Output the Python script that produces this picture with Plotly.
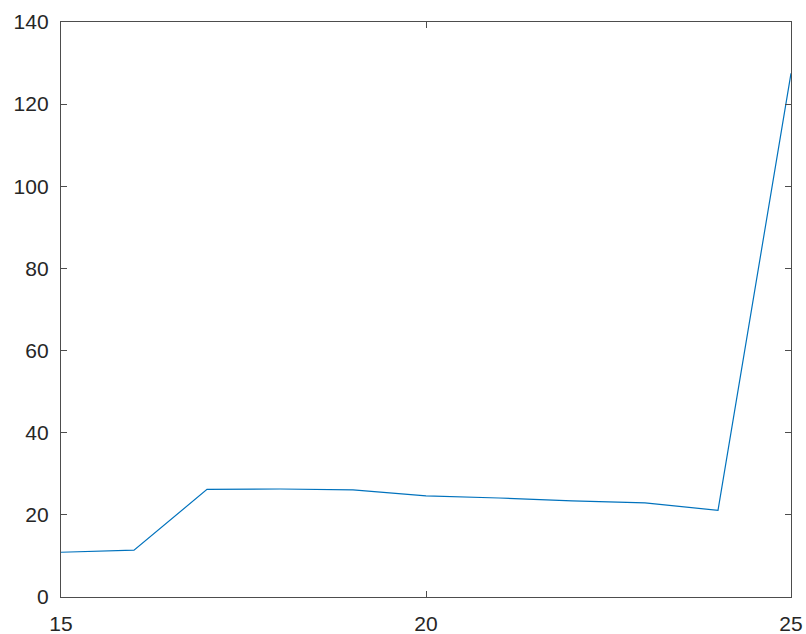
import plotly.graph_objects as go

x_vals = [15, 16, 17, 18, 19, 20, 21, 22, 23, 24, 25]
y_vals = [10.9, 11.4, 26.2, 26.3, 26.1, 24.6, 24.1, 23.4, 22.9, 21.1, 127.5]

x_ticks = [15, 20, 25]
y_ticks = [0, 20, 40, 60, 80, 100, 120, 140]

axis_color = "#4d4d4d"
text_color = "#262626"

fig = go.Figure()
fig.add_trace(go.Scatter(x=x_vals, y=y_vals, mode="lines",
                         line=dict(color="#0072BD", width=1.2),
                         showlegend=False))

common = dict(showgrid=False, zeroline=False, showline=True, linecolor=axis_color,
              linewidth=1.3, mirror="allticks", ticks="inside", ticklen=6,
              tickcolor=axis_color, tickwidth=1.2,
              tickfont=dict(family="Liberation Sans, Arial, sans-serif", size=21, color=text_color))

fig.update_xaxes(range=[15, 25], tickvals=x_ticks, ticklabelstandoff=8, **common)
fig.update_yaxes(range=[0, 140], tickvals=y_ticks, ticklabelstandoff=7, **common)

fig.update_layout(width=806, height=634, autosize=False,
                  margin=dict(l=61, r=15, t=22, b=37, autoexpand=False),
                  paper_bgcolor="white", plot_bgcolor="white")

fig.write_html("out.html", config={"displayModeBar": False},
               post_script="document.body.style.margin='0';document.body.style.overflow='hidden';")
